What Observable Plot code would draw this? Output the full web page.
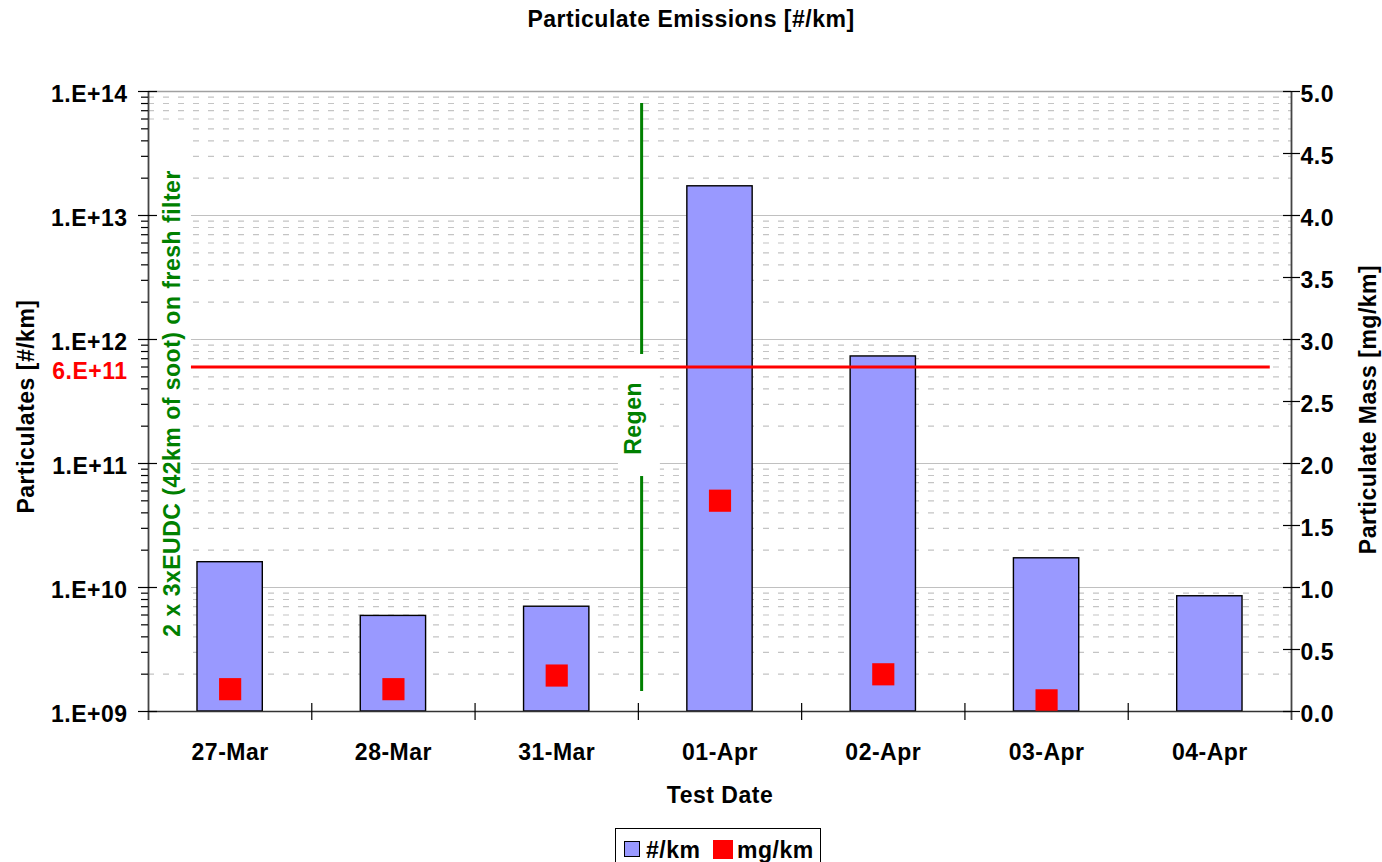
<!DOCTYPE html>
<html>
<head>
<meta charset="utf-8">
<script src="https://cdn.jsdelivr.net/npm/d3@7"></script>
<script src="https://cdn.jsdelivr.net/npm/@observablehq/plot@0.6"></script>
<style>
  body { margin: 0; background: #fff; font-family: "Liberation Sans", Arial, sans-serif; }
  #wrap { position: relative; width: 1382px; height: 862px; overflow: hidden; }
  #title { position: absolute; top: 6px; left: 0; width: 1382px; text-align: center;
           font-weight: bold; font-size: 23px; letter-spacing: 0.5px; color: #000; z-index: 2; }
  #chart { position: absolute; top: 0; left: 0; }
  #legend { position: absolute; left: 615px; top: 828px; width: 206px; height: 44px;
            border: 1px solid #000; background: #fff; box-sizing: border-box; z-index: 2; }
  #legend .sw { position: absolute; }
  #legend .lbl { position: absolute; top: 8px; font-weight: bold; font-size: 23px; letter-spacing: 0.5px; line-height: 26px; }
</style>
</head>
<body>
<div id="wrap">
  <div id="title">Particulate Emissions [#/km]</div>
  <div id="chart"></div>
  <div id="legend">
    <div class="sw" style="left:8px;top:12px;width:14px;height:14px;background:#9999ff;border:1px solid #000;"></div>
    <div class="lbl" style="left:30px;">#/km</div>
    <div class="sw" style="left:97px;top:11px;width:20px;height:19px;background:#ff0000;"></div>
    <div class="lbl" style="left:121px;">mg/km</div>
  </div>
</div>
<script>
// Test dates and measured values
const dates = ["27-Mar", "28-Mar", "31-Mar", "01-Apr", "02-Apr", "03-Apr", "04-Apr"];
const particleCount = [1.6e10, 5.9e9, 7.0e9, 1.72e13, 7.3e11, 1.72e10, 8.5e9]; // #/km
const particleMass = [0.18, 0.18, 0.29, 1.7, 0.3, 0.09, null];                 // mg/km

// Axis ticks
const leftTicks = [1e9, 1e10, 1e11, 1e12, 1e13, 1e14];
const leftTickLabels = ["1.E+09", "1.E+10", "1.E+11", "1.E+12", "1.E+13", "1.E+14"];
const rightTicks = [0, 0.5, 1.0, 1.5, 2.0, 2.5, 3.0, 3.5, 4.0, 4.5, 5.0];
const rightTickLabels = ["0.0", "0.5", "1.0", "1.5", "2.0", "2.5", "3.0", "3.5", "4.0", "4.5", "5.0"];

// Limit line and annotations
const limitValue = 6e11;
const limitLabel = "6.E+11";
const sootNote = "2 x 3xEUDC (42km of soot) on fresh filter";
const regenNote = "Regen";

// Minor log gridlines: 2..9 within each decade
const minorTicks = leftTicks.slice(0, -1).flatMap(d => d3.range(2, 10).map(k => k * d));

// The right (mass) axis spans 0..5 mg/km linearly over the five decades of the left axis
const massToY = v => 10 ** (9 + v);

const rows = dates.map((date, i) => ({date, i, count: particleCount[i], mass: particleMass[i]}));
const massRows = rows.filter(d => d.mass != null);
const boundaries = d3.range(1, dates.length);

const bold = {fontSize: 23, fontWeight: "bold"};

const chart = Plot.plot({
  width: 1382,
  height: 862,
  marginLeft: 148,
  marginRight: 91,
  marginTop: 91,
  marginBottom: 151,
  x: {type: "linear", domain: [0, dates.length], axis: null},
  y: {type: "log", domain: [1e9, 1e14], axis: null},
  style: {fontFamily: "'Liberation Sans', Arial, sans-serif", letterSpacing: "0.5px", background: "transparent", overflow: "visible"},
  marks: [
    // gridlines
    Plot.ruleY(minorTicks, {stroke: "#c4c4c4", strokeWidth: 1.2, strokeDasharray: "6,9"}),
    Plot.ruleY(leftTicks.slice(1, -1), {stroke: "#c0c0c0", strokeWidth: 1.2}),
    Plot.ruleY([1e14], {stroke: "#a0a0a0", strokeWidth: 1.6}),

    // particle count bars
    Plot.rect(rows, {x1: d => d.i + 0.3, x2: d => d.i + 0.7, y1: () => 1e9, y2: "count",
                     fill: "#9999ff", stroke: "#000", strokeWidth: 1.4}),

    // particle mass markers
    Plot.dot(massRows, {x: d => d.i + 0.5, y: d => massToY(d.mass), symbol: "square", r: 12.5, fill: "#ff0000"}),

    // regeneration marker
    Plot.ruleX([3.02], {y1: () => 1.45e9, y2: () => 8e13, stroke: "#008000", strokeWidth: 3}),
    Plot.rect([0], {x1: () => 2.878, x2: () => 3.135, y1: () => 7.85e10, y2: () => 7.57e11, fill: "#fff"}),
    Plot.text([regenNote], {x: () => 2.97, y: () => 2.31e11, text: d => d, rotate: -90, fill: "#008000", ...bold}),

    // soot loading note
    Plot.rect([0], {x1: () => 0, x2: () => 0.263, y1: () => 2.3e9, y2: () => 5.5e13, fill: "#fff"}),
    Plot.text([sootNote], {x: () => 0.147, y: () => 3.05e11, text: d => d, rotate: -90, fill: "#008000", ...bold}),

    // limit line
    Plot.ruleY([limitValue], {x1: () => 0.263, x2: () => 6.87, stroke: "#ff0000", strokeWidth: 3}),

    // axis lines
    Plot.ruleY([1e9], {stroke: "#333", strokeWidth: 1.6}),
    Plot.ruleX([0, dates.length], {stroke: "#444", strokeWidth: 1.8, insetBottom: -9}),

    // ticks
    Plot.ruleY(minorTicks, {x1: () => 0, x2: () => 0, insetLeft: -7, stroke: "#000", strokeWidth: 1.2}),
    Plot.ruleY(leftTicks, {x1: () => 0, x2: () => 0, insetLeft: -10, insetRight: -9, stroke: "#000", strokeWidth: 1.2}),
    Plot.ruleY(rightTicks.map(massToY), {x1: () => dates.length, x2: () => dates.length, insetLeft: -8, insetRight: -9, stroke: "#000", strokeWidth: 1.2}),
    Plot.ruleX(boundaries, {y1: () => 1e9, y2: () => 1e9, insetTop: -8, insetBottom: -9, stroke: "#000", strokeWidth: 1.2}),

    // tick labels
    Plot.text(leftTicks, {x: () => 0, y: d => d, text: (d, i) => leftTickLabels[i], textAnchor: "end", dx: -21, dy: 3, fill: "#000", ...bold}),
    Plot.text([limitValue], {x: () => 0, y: d => d, text: () => limitLabel, textAnchor: "end", dx: -21, dy: 5, fill: "#ff0000", ...bold}),
    Plot.text(rightTicks, {x: () => dates.length, y: d => massToY(d), text: (d, i) => rightTickLabels[i], textAnchor: "start", dx: 9, dy: 3, fill: "#000", ...bold}),
    Plot.text(rows, {x: d => d.i + 0.5, y: () => 1e9, text: "date", dy: 41, fill: "#000", ...bold}),

    // axis titles
    Plot.text(["Test Date"], {frameAnchor: "bottom", text: d => d, lineAnchor: "middle", dy: 84, fill: "#000", ...bold}),
    Plot.text(["Particulates [#/km]"], {frameAnchor: "left", text: d => d, textAnchor: "middle", lineAnchor: "middle", rotate: -90, dx: -122, dy: 5, fill: "#000", ...bold}),
    Plot.text(["Particulate Mass [mg/km]"], {frameAnchor: "right", text: d => d, textAnchor: "middle", lineAnchor: "middle", rotate: -90, dx: 77, dy: 8, fill: "#000", ...bold})
  ]
});

document.getElementById("chart").appendChild(chart);
</script>
</body>
</html>
